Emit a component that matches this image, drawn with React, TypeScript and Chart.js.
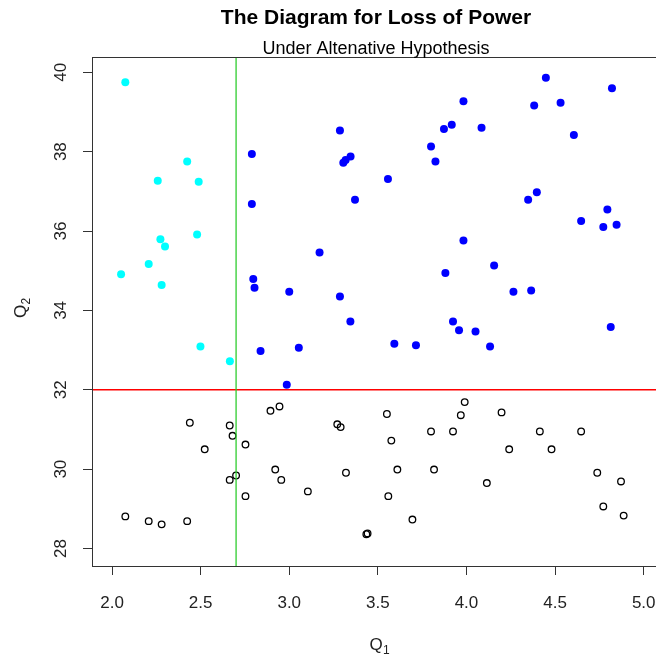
import React, { useEffect, useRef } from 'react';
import { Chart, registerables } from 'chart.js';

Chart.register(...registerables);

// ---- data ----
const cyanQ1 = [2.075, 2.424, 2.258, 2.489, 2.273, 2.299, 2.48, 2.207, 2.051, 2.28, 2.499, 2.665];
const cyanQ2 = [39.75, 37.75, 37.27, 37.24, 35.79, 35.61, 35.91, 35.17, 34.91, 34.64, 33.09, 32.72];

const blueQ1 = [2.789, 2.789, 2.797, 2.804, 3.0, 2.838, 2.986, 3.286, 3.305, 3.318, 3.346, 3.557, 3.371, 3.8, 3.825, 3.873, 3.917, 3.983, 4.085, 3.171, 3.286, 3.345, 3.054, 3.593, 3.715, 3.881, 3.983, 3.924, 3.958, 4.051, 4.448, 4.821, 4.382, 4.531, 4.606, 4.397, 4.348, 4.795, 4.647, 4.772, 4.847, 4.156, 4.265, 4.365, 4.133, 4.814];
const blueQ2 = [37.94, 36.68, 34.79, 34.57, 34.47, 32.98, 32.13, 38.53, 37.72, 37.79, 37.88, 37.31, 36.79, 38.13, 37.75, 38.57, 38.68, 39.27, 38.6, 35.46, 34.35, 33.72, 33.06, 33.16, 33.12, 34.94, 35.76, 33.72, 33.5, 33.47, 39.86, 39.6, 39.16, 39.23, 38.42, 36.98, 36.79, 36.54, 36.25, 36.1, 36.16, 35.13, 34.47, 34.5, 33.09, 33.58];

const openQ1 = [2.439, 2.664, 2.68, 2.753, 2.523, 2.894, 2.945, 2.921, 2.955, 2.7, 2.664, 2.753, 2.075, 2.207, 2.28, 2.424,
  3.271, 3.29, 3.551, 3.576, 3.32, 3.105, 3.61, 3.559, 3.817, 3.8, 3.924, 3.968, 3.99, 3.695, 3.435, 3.442,
  4.198, 4.414, 4.647, 4.241, 4.48, 4.738, 4.872, 4.115, 4.772, 4.887];
const openQ2 = [31.17, 31.1, 30.84, 30.62, 30.5, 31.47, 31.58, 29.99, 29.73, 29.84, 29.73, 29.32, 28.81, 28.69, 28.61, 28.69,
  31.13, 31.06, 31.39, 30.72, 29.91, 29.44, 29.99, 29.32, 29.99, 30.95, 30.95, 31.36, 31.69, 28.73, 28.36, 28.38,
  31.43, 30.95, 30.95, 30.5, 30.5, 29.91, 29.69, 29.65, 29.06, 28.83];

const xTicks = [2.0, 2.5, 3.0, 3.5, 4.0, 4.5, 5.0];
const yTicks = [28, 30, 32, 34, 36, 38, 40];
const thresholdQ1 = 2.7;
const thresholdQ2 = 32;
const titleText = 'The Diagram for Loss of Power';
const subtitleText = 'Under Altenative Hypothesis';
const xLabelMain = 'Q';
const xLabelSub = '1';
const yLabelMain = 'Q';
const yLabelSub = '2';

const FONT = '"Liberation Sans", Arial, Helvetica, sans-serif';

const zip = (a: number[], b: number[]) => a.map((v, i) => ({ x: v, y: b[i] }));

const decor = {
  id: 'decor',
  afterDatasetsDraw(chart: any) {
    const { ctx, chartArea: a, scales } = chart;
    const x = scales.x;
    const y = scales.y;
    ctx.save();
    // threshold lines
    const yr = y.getPixelForValue(thresholdQ2);
    ctx.strokeStyle = '#FF0000';
    ctx.lineWidth = 1.5;
    ctx.beginPath();
    ctx.moveTo(a.left, yr);
    ctx.lineTo(a.right, yr);
    ctx.stroke();
    const xg = x.getPixelForValue(thresholdQ1);
    ctx.strokeStyle = '#2ECC2E';
    ctx.lineWidth = 1.3;
    ctx.beginPath();
    ctx.moveTo(xg, a.top);
    ctx.lineTo(xg, a.bottom);
    ctx.stroke();
    // box
    ctx.strokeStyle = '#333';
    ctx.lineWidth = 1;
    ctx.strokeRect(a.left + 0.5, a.top + 0.5, a.right - a.left, a.bottom - a.top);

    // tick labels
    ctx.fillStyle = '#222';
    ctx.font = '17px ' + FONT;
    ctx.textAlign = 'center';
    ctx.textBaseline = 'alphabetic';
    x.ticks.forEach((t: any) => {
      ctx.fillText(t.value.toFixed(1), x.getPixelForValue(t.value), a.bottom + 42);
    });
    y.ticks.forEach((t: any) => {
      ctx.save();
      ctx.translate(a.left - 26, y.getPixelForValue(t.value));
      ctx.rotate(-Math.PI / 2);
      ctx.fillText(String(t.value), 0, 0);
      ctx.restore();
    });

    const cx = (a.left + a.right) / 2;
    // titles
    ctx.fillStyle = '#000';
    ctx.font = 'bold 21px ' + FONT;
    ctx.fillText(titleText, cx, 24);
    ctx.font = '18px ' + FONT;
    ctx.fillText(subtitleText, cx, 54);

    // axis titles
    ctx.fillStyle = '#222';
    ctx.font = '17px ' + FONT;
    ctx.textAlign = 'center';
    ctx.fillText(xLabelMain, cx, 650);
    const qw = ctx.measureText(xLabelMain).width;
    ctx.font = '12px ' + FONT;
    ctx.textAlign = 'left';
    ctx.fillText(xLabelSub, cx + qw / 2 + 0.5, 654);

    ctx.save();
    ctx.translate(26, (a.top + a.bottom) / 2);
    ctx.rotate(-Math.PI / 2);
    ctx.font = '17px ' + FONT;
    ctx.textAlign = 'center';
    ctx.fillText(yLabelMain, 0, 0);
    const qw2 = ctx.measureText(yLabelMain).width;
    ctx.font = '12px ' + FONT;
    ctx.textAlign = 'left';
    ctx.fillText(yLabelSub, qw2 / 2 + 0.5, 4);
    ctx.restore();

    ctx.restore();
  },
};

export default function App() {
  const ref = useRef<HTMLCanvasElement | null>(null);
  useEffect(() => {
    if (!ref.current) return;
    const chart = new Chart(ref.current, {
      type: 'scatter',
      data: {
        datasets: [
          {
            data: zip(openQ1, openQ2),
            pointRadius: 3.3,
            pointBorderWidth: 1.3,
            pointBorderColor: '#000',
            pointBackgroundColor: 'rgba(0,0,0,0)',
          },
          {
            data: zip(blueQ1, blueQ2),
            pointRadius: 4,
            pointBorderWidth: 0,
            pointBackgroundColor: '#0000FF',
            pointBorderColor: '#0000FF',
          },
          {
            data: zip(cyanQ1, cyanQ2),
            pointRadius: 4,
            pointBorderWidth: 0,
            pointBackgroundColor: '#00FFFF',
            pointBorderColor: '#00FFFF',
          },
        ],
      } as any,
      options: {
        animation: false,
        responsive: false,
        devicePixelRatio: 1,
        events: [],
        layout: { autoPadding: false, padding: { top: 57, left: 0, right: 0, bottom: 0 } },
        plugins: {
          legend: { display: false },
          title: { display: false },
          tooltip: { enabled: false },
        },
        scales: {
          x: {
            type: 'linear',
            min: 1.887,
            max: 5.092,
            afterBuildTicks: (s: any) => {
              s.ticks = xTicks.map((v) => ({ value: v }));
            },
            afterFit: (s: any) => {
              s.height = 91;
              s.paddingLeft = 0;
              s.paddingRight = 0;
              s.paddingTop = 0;
              s.paddingBottom = 0;
            },
            ticks: { display: false },
            grid: { drawOnChartArea: false, drawTicks: true, tickLength: 9, tickColor: '#333', color: '#333', tickWidth: 1 },
            border: { display: false },
          },
          y: {
            type: 'linear',
            min: 27.56,
            max: 40.385,
            afterBuildTicks: (s: any) => {
              s.ticks = yTicks.map((v) => ({ value: v }));
            },
            afterFit: (s: any) => {
              s.width = 92;
              s.paddingLeft = 0;
              s.paddingRight = 0;
              s.paddingTop = 0;
              s.paddingBottom = 0;
            },
            ticks: { display: false },
            grid: { drawOnChartArea: false, drawTicks: true, tickLength: 9, tickColor: '#333', color: '#333', tickWidth: 1 },
            border: { display: false },
          },
        },
      } as any,
      plugins: [decor],
    });
    return () => chart.destroy();
  }, []);
  return (
    <div style={{ position: 'absolute', left: 0, top: 0, width: 656, height: 657, overflow: 'hidden', background: '#fff' }}>
      <canvas ref={ref} width={660} height={657} style={{ display: 'block' }} />
    </div>
  );
}
